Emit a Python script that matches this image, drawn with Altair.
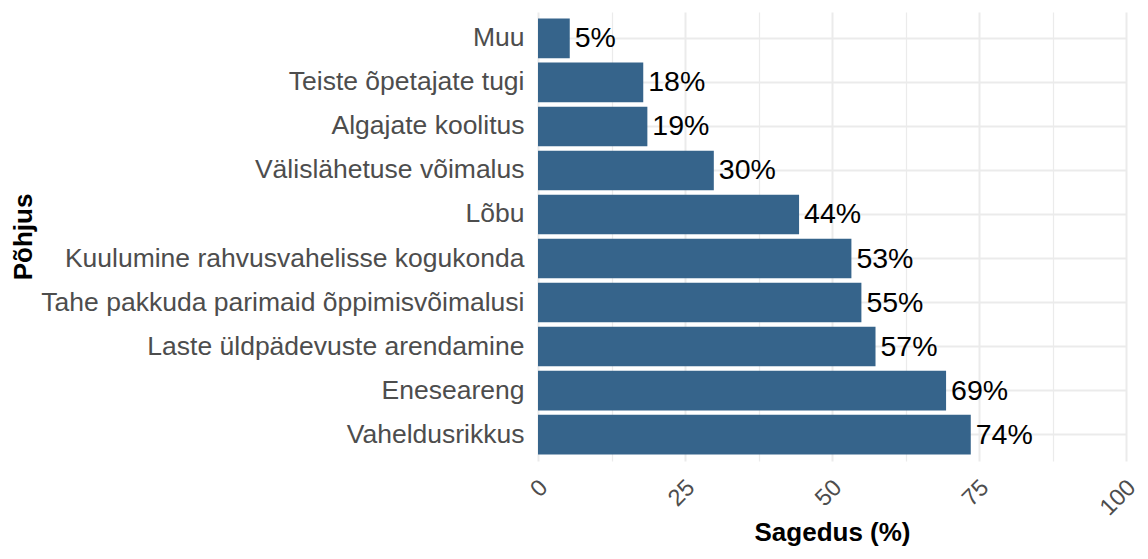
import altair as alt
import pandas as pd

categories = [
    "Muu",
    "Teiste õpetajate tugi",
    "Algajate koolitus",
    "Välislähetuse võimalus",
    "Lõbu",
    "Kuulumine rahvusvahelisse kogukonda",
    "Tahe pakkuda parimaid õppimisvõimalusi",
    "Laste üldpädevuste arendamine",
    "Eneseareng",
    "Vaheldusrikkus",
]
values = [5.4, 17.9, 18.6, 29.9, 44.4, 53.3, 55.0, 57.4, 69.4, 73.6]
x_breaks = [0, 12.5, 25, 37.5, 50, 62.5, 75, 87.5, 100]

df = pd.DataFrame({"reason": categories, "pct": values})
df["label"] = [f"{round(v)}%" for v in values]

FONT = "Liberation Sans"
BAR = "#36648B"
GRID = "#EBEBEB"

PLOT_W = 588
PLOT_H = 449

x_enc = alt.X(
    "pct:Q",
    scale=alt.Scale(domain=[0, 100], nice=False, zero=True),
    axis=alt.Axis(
        title="Sagedus (%)",
        values=x_breaks,
        labelExpr="datum.value % 25 === 0 ? datum.label : ''",
        labelAngle=315,
        labelAlign="right",
        labelBaseline="top",
        labelFontSize=23.5,
        labelColor="#4D4D4D",
        labelPadding=14,
        labelOffset=-3,
        labelFont=FONT,
        labelOverlap=False,
        ticks=False,
        domain=False,
        grid=True,
        gridColor=GRID,
        gridWidth={"condition": {"test": "datum.value % 25 === 0", "value": 2}, "value": 1.2},
        titleFont=FONT,
        titleFontSize=26,
        titleFontWeight="bold",
        titleColor="black",
        titleX=PLOT_W / 2,
        titleY=79,
        titleAnchor="middle",
        titleAlign="center",
        titleBaseline="alphabetic",
    ),
)

y_enc = alt.Y(
    "reason:N",
    sort=categories,
    scale=alt.Scale(paddingInner=0.1, paddingOuter=0.15),
    axis=alt.Axis(
        title="Põhjus",
        labelFontSize=26.5,
        labelColor="#4D4D4D",
        labelFont=FONT,
        labelPadding=14,
        labelLimit=1000,
        ticks=False,
        domain=False,
        grid=True,
        gridColor=GRID,
        gridWidth=2,
        bandPosition=0.5,
        titleFont=FONT,
        titleFontSize=26,
        titleFontWeight="bold",
        titleColor="black",
        titleX=-515,
        titleY=PLOT_H / 2,
        titleAngle=270,
        titleAlign="center",
        titleBaseline="middle",
    ),
)

bars = alt.Chart(df).mark_bar(color=BAR).encode(x=x_enc, y=y_enc)
texts = alt.Chart(df).mark_text(
    align="left", baseline="middle", dx=5, fontSize=28.5, font=FONT, color="black"
).encode(x="pct:Q", y=alt.Y("reason:N", sort=categories), text="label:N")

chart = (
    alt.layer(bars, texts)
    .properties(
        width=PLOT_W,
        height=PLOT_H,
        autosize=alt.AutoSizeParams(type="none"),
        padding={"left": 530, "top": 4, "right": 14, "bottom": 85},
        background="white",
    )
    .configure_view(stroke=None)
)

chart.save("out.html", embed_options={"renderer": "svg", "actions": False})
